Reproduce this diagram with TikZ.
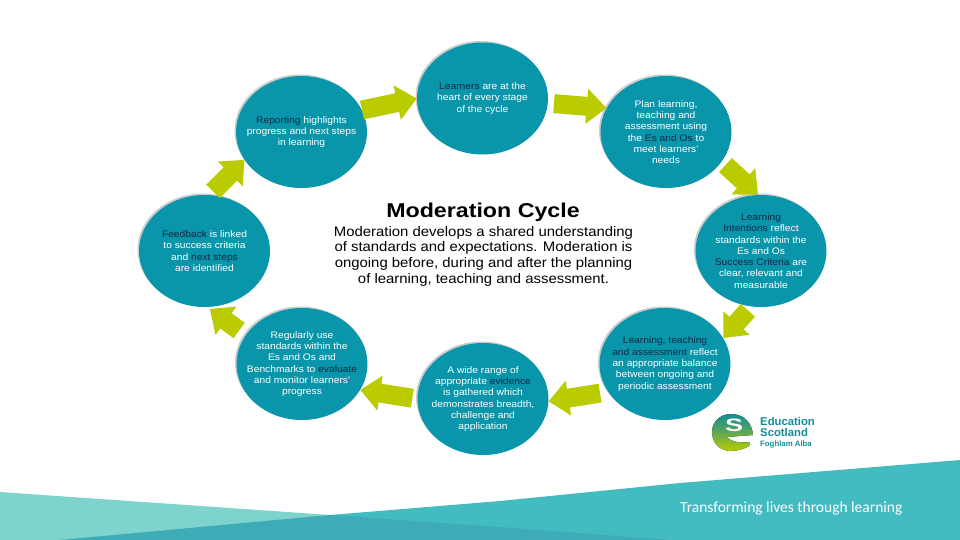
\documentclass[tikz,border=0pt]{standalone}
\usepackage{fontspec}
\setmainfont{Liberation Sans}
\newfontfamily\tagfont{Carlito}
\newfontfamily\widefont[FakeStretch=1.08]{Liberation Sans}
\newfontfamily\headfont[FakeStretch=1.16,BoldFont={Liberation Sans Bold}]{Liberation Sans}
\newfontfamily\logofont[FakeStretch=1.5]{Liberation Sans Bold}
\usetikzlibrary{arrows.meta,shapes.geometric,shadows}
\definecolor{tealc}{RGB}{10,150,170}
\definecolor{limec}{RGB}{186,204,0}
\definecolor{kwc}{RGB}{14,40,70}
\definecolor{wavea}{RGB}{127,211,205}
\definecolor{waveb}{RGB}{66,187,193}
\definecolor{wavec}{RGB}{62,172,183}
\definecolor{logoc}{RGB}{20,140,150}
\newcommand{\kw}[1]{\textcolor{kwc}{#1}}
\tikzset{stage/.style={ellipse,fill=tealc,minimum width=131pt,minimum height=112pt,inner sep=-14pt,
  align=center,text=white,font=\widefont\fontsize{9.5}{11.3}\selectfont,
  drop shadow={shadow xshift=-1.5pt,shadow yshift=1.5pt,opacity=.2,fill=black}},
 flow/.style={draw=limec,line width=19pt,-{Triangle[length=20pt,width=34pt]}},
 every node/.style={inner sep=0pt}}
\begin{document}
\begin{tikzpicture}[x=1pt,y=-1pt]
\useasboundingbox (0,0) rectangle (960,540);
% bottom waves
\fill[wavea] (0,492)--(330,515)--(60,540)--(0,540)--cycle;
\fill[waveb] (960,460)--(680,483)--(500,501)--(330,515)--(60,540)--(960,540)--cycle;
\fill[wavec] (60,540)--(330,515)--(500,527)--(670,540)--cycle;
% stages
\node[stage] (top) at (482.5,98.5) {\kw{Learners} are at the\\heart of every stage\\of the cycle};
\node[stage] (plan) at (666,132) {Plan learning,\\teaching and\\assessment using\\the \kw{Es and Os} to\\meet learners'\\needs};
\node[stage] (intent) at (761,251) {\kw{Learning}\\\kw{Intentions} reflect\\standards within the\\Es and Os\\\kw{Success Criteria} are\\clear, relevant and\\measurable};
\node[stage] (teach) at (665,364) {\kw{Learning, teaching}\\\kw{and assessment} reflect\\an appropriate balance\\between ongoing and\\periodic assessment};
\node[stage] (evid) at (483,399) {A wide range of\\appropriate \kw{evidence}\\is gathered which\\demonstrates breadth,\\challenge and\\application};
\node[stage] (bench) at (302,364) {Regularly use\\standards within the\\Es and Os and\\Benchmarks to \kw{evaluate}\\and monitor learners'\\progress};
\node[stage] (feed) at (204.5,251) {\kw{Feedback} is linked\\to success criteria\\and \kw{next steps}\\are identified};
\node[stage] (report) at (301.5,132) {\kw{Reporting} highlights\\progress and next steps\\in learning};
% arrows round the cycle
\draw[flow] (report.20)--(top.180);
\draw[flow,shorten <=6pt] (top.-4)--(plan.158);
\draw[flow,shorten <=5pt] (plan.-28)--(intent.93);
\draw[flow,shorten <=5pt] (intent.-100)--(teach.24);
\draw[flow,shorten <=8pt] (teach.-154)--(evid.-2);
\draw[flow,shorten <=5pt] (evid.180)--(bench.-24);
\draw[flow,shorten <=8pt,shorten >=3pt] (bench.153)--(feed.-87);
\draw[flow,shorten <=5pt] (feed.85)--(report.-154);
% centre text
\node[font=\headfont\bfseries\fontsize{20}{22}\selectfont] (title) at (483,212) {Moderation Cycle};
\node[align=center,font=\widefont\fontsize{13.8}{15.7}\selectfont,anchor=north] (intro) at (483.5,226) {Moderation develops a shared understanding\\of standards and expectations. Moderation is\\ongoing before, during and after the planning\\of learning, teaching and assessment.};
% logo
\fill[top color=logoc,bottom color=limec,middle color=logoc!55!limec] (750,442) -- (749,446) .. controls (744,449) and (737,451) .. (731,451)
  .. controls (720,451) and (712,443) .. (712,432) .. controls (712,422) and (720,414) .. (731,414)
  .. controls (743,414) and (752,422) .. (753,435) -- (727,437) .. controls (731,442) and (740,443) .. (750,442) -- cycle;
\node[white,font=\logofont\fontsize{18}{18}\selectfont] (logos) at (734,425.5) {S};
\node[anchor=west,align=left,text=logoc,font=\bfseries\fontsize{11.3}{11}\selectfont] (logot) at (760,426.5) {Education\\Scotland};
\node[anchor=west,text=logoc,font=\bfseries\fontsize{7.8}{8}\selectfont] (logog) at (760,444) {Foghlam Alba};
\node[anchor=west,text=white,font=\tagfont\fontsize{15.5}{18}\selectfont] (tag) at (680,508) {Transforming lives through learning};
\end{tikzpicture}
\end{document}
